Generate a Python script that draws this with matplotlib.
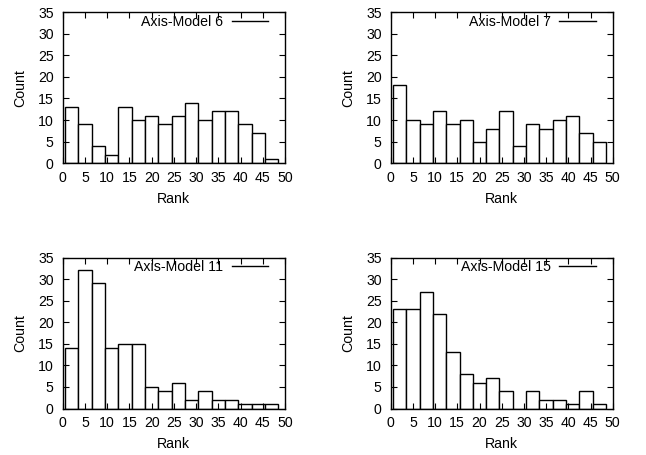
import matplotlib.pyplot as plt
from matplotlib.lines import Line2D
import numpy as np

plt.rcParams['font.family'] = ['Liberation Sans', 'DejaVu Sans']
plt.rcParams['font.size'] = 10.2

# left edges of the rank bins (width 3)
bin_left = np.arange(0.5, 48, 3)

titles = ['Axis-Model 6', 'Axis-Model 7', 'Axis-Model 11', 'Axis-Model 15']
counts_m6 = [13, 9, 4, 2, 13, 10, 11, 9, 11, 14, 10, 12, 12, 9, 7, 1]
counts_m7 = [18, 10, 9, 12, 9, 10, 5, 8, 12, 4, 9, 8, 10, 11, 7, 5]
counts_m11 = [14, 32, 29, 14, 15, 15, 5, 4, 6, 2, 4, 2, 2, 1, 1, 1]
counts_m15 = [23, 23, 27, 22, 13, 8, 6, 7, 4, 0, 4, 2, 2, 1, 4, 1]
all_counts = [counts_m6, counts_m7, counts_m11, counts_m15]

W, H = 646, 455
fig = plt.figure(figsize=(W / 100, H / 100), dpi=100)

# axes boxes in pixels: (left, top, right, bottom)
boxes = [(62.7, 12, 285, 163.3), (390.7, 12, 612.7, 163.3),
         (62.7, 257.5, 285, 408.5), (390.7, 257.5, 612.7, 408.5)]

for box, title, counts in zip(boxes, titles, all_counts):
    l, t, r, b = box
    ax = fig.add_axes([l / W, 1 - b / H, (r - l) / W, (b - t) / H])
    ax.bar(bin_left, counts, width=3, align='edge', facecolor='white',
           edgecolor='black', linewidth=1)
    ax.set_xlim(0, 50)
    ax.set_ylim(0, 35)
    ax.set_xticks(np.arange(0, 51, 5))
    ax.set_yticks(np.arange(0, 36, 5))
    ax.tick_params(direction='in', top=True, right=True, length=4, width=0.8)
    ax.tick_params(axis='x', pad=5.5)
    ax.tick_params(axis='y', pad=6.5)
    for s in ax.spines.values():
        s.set_linewidth(1)
    ax.set_xlabel('Rank')
    ax.set_ylabel('Count')
    ax.xaxis.set_label_coords(0.5, -0.19)
    ax.yaxis.set_label_coords(-0.16, 0.5)
    h = Line2D([], [], color='black', linewidth=1)
    ax.legend([h], [title], loc='center right', bbox_to_anchor=(0.923, 0.936),
              frameon=False, markerfirst=False, handlelength=2.55,
              handletextpad=0.6, borderpad=0, borderaxespad=0)

fig.savefig('out.png', dpi=100)
